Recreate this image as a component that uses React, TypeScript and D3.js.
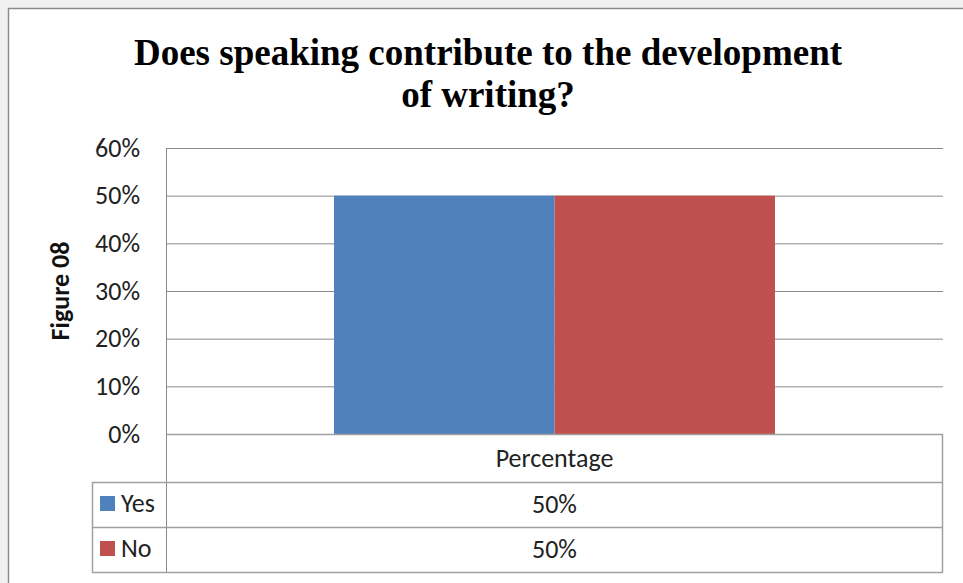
import React from "react";
import * as d3 from "d3";

const categories = ["Percentage"];
const seriesNames = ["Yes", "No"];
const yesValues = [0.5];
const noValues = [0.5];
const yTicks = [0, 0.1, 0.2, 0.3, 0.4, 0.5, 0.6];
const colors = ["#4F81BD", "#C0504D"];
const titleLines = ["Does speaking contribute to the development", "of writing?"];
const yAxisTitle = "Figure 08";

export default function App() {
  const W = 963, H = 583;
  const plotL = 166, plotR = 943, plotT = 148, plotB = 434;
  const y = d3.scaleLinear().domain([0, 0.6]).range([plotB, plotT]);
  const x0 = d3.scaleBand().domain(categories).range([plotL, plotR]).paddingInner(0).paddingOuter(0.381);
  const x1 = d3.scaleBand().domain(seriesNames).range([0, x0.bandwidth()]);
  const series = [yesValues, noValues];
  const rowLines = [434, 482, 527, 572];
  const tableL = 92;
  const fmt = d3.format(".0%");
  const sans = "Carlito, 'Liberation Sans', 'Noto Sans', sans-serif";
  return (
    <div style={{ position: "fixed", left: 0, top: 0 }}>
      <svg width={W} height={H} style={{ display: "block" }}>
        <rect x={0} y={0} width={W} height={H} fill="#f0f0f0" />
        <rect x={8.5} y={8.5} width={W + 10} height={H + 10} fill="#ffffff" stroke="#8c8c8c" strokeWidth={1.5} />
        {titleLines.map((t, i) => (
          <text key={i} x={488} y={65 + i * 42} textAnchor="middle" fontFamily="'Liberation Serif', 'Times New Roman', serif" fontWeight="bold" fontSize={37} fill="#000">{t}</text>
        ))}
        {yTicks.map((t) => (
          <g key={t}>
            <line x1={plotL} x2={plotR} y1={y(t) + 0.5} y2={y(t) + 0.5} stroke="#8a8a8a" strokeWidth={1} />
            <text x={140} y={y(t) + 8.5} textAnchor="end" fontFamily={sans} fontSize={26} fill="#222">{fmt(t)}</text>
          </g>
        ))}
        {categories.map((c, ci) => (
          <g key={c}>
            {series.map((vals, si) => (
              <rect key={si} x={(x0(c) as number) + (x1(seriesNames[si]) as number)} y={y(vals[ci])} width={x1.bandwidth()} height={plotB - y(vals[ci])} fill={colors[si]} />
            ))}
          </g>
        ))}
        <line x1={plotL + 0.5} x2={plotL + 0.5} y1={plotT} y2={572} stroke="#8a8a8a" strokeWidth={1} />
        <line x1={plotR - 0.5} x2={plotR - 0.5} y1={plotB} y2={572} stroke="#a0a0a0" strokeWidth={1.5} />
        {rowLines.map((ry, i) => (
          <line key={i} x1={i === 0 ? plotL : tableL} x2={plotR} y1={ry + 0.5} y2={ry + 0.5} stroke="#a0a0a0" strokeWidth={1.5} />
        ))}
        <line x1={tableL + 0.5} x2={tableL + 0.5} y1={482} y2={572} stroke="#a0a0a0" strokeWidth={1.5} />
        {categories.map((c) => (
          <text key={c} x={(x0(c) as number) + x0.bandwidth() / 2} y={467} textAnchor="middle" fontFamily={sans} fontSize={26} fill="#222">{c}</text>
        ))}
        {seriesNames.map((s, si) => (
          <g key={s}>
            <rect x={100} y={rowLines[si + 1] + 14} width={15} height={15} fill={colors[si]} />
            <text x={121} y={rowLines[si + 1] + 30} fontFamily={sans} fontSize={26} fill="#222">{s}</text>
            {categories.map((c, ci) => (
              <text key={c} x={(x0(c) as number) + x0.bandwidth() / 2} y={rowLines[si + 1] + 30.5} textAnchor="middle" fontFamily={sans} fontSize={26} fill="#222">{fmt(series[si][ci])}</text>
            ))}
          </g>
        ))}
        <text transform={`translate(69,291) rotate(-90)`} textAnchor="middle" fontFamily={sans} fontWeight="bold" fontSize={26} fill="#111">{yAxisTitle}</text>
      </svg>
    </div>
  );
}
